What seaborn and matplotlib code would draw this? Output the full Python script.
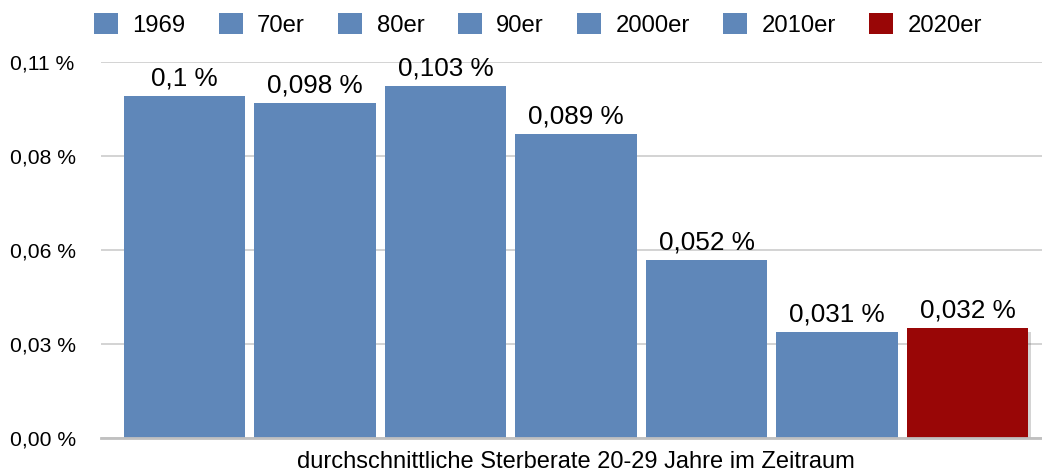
# Sterberate 20-29 Jahre nach Zeitraum
import pandas as pd
import numpy as np
import matplotlib.pyplot as plt
import matplotlib.patheffects as pe
import seaborn as sns

# Daten
kategorie = "durchschnittliche Sterberate 20-29 Jahre im Zeitraum"
zeitraeume = ["1969", "70er", "80er", "90er", "2000er", "2010er", "2020er"]
sterberate = [0.1, 0.098, 0.103, 0.089, 0.052, 0.031, 0.032]
farben = ["#5f87b9"] * 6 + ["#990606"]
y_ticks = [0, 0.0275, 0.055, 0.0825, 0.11]
y_tick_labels = ["0,00 %", "0,03 %", "0,06 %", "0,08 %", "0,11 %"]

df = pd.DataFrame({"kategorie": kategorie, "zeitraum": zeitraeume, "wert": sterberate})

sns.set_style("white")
plt.rcParams['font.family'] = ['Liberation Sans', 'DejaVu Sans']
plt.rcParams['text.color'] = 'black'
plt.rcParams['xtick.color'] = 'black'
plt.rcParams['ytick.color'] = 'black'

fig = plt.figure(figsize=(10.42, 4.75), dpi=100)
ax = fig.add_axes([101 / 1042, 37.5 / 475, 941 / 1042, 375.5 / 475])

sns.barplot(data=df, x="kategorie", y="wert", hue="zeitraum", palette=farben,
            width=0.8, gap=0.07, saturation=1, linewidth=0, ax=ax)

# x-Achse so legen, dass die Gruppe wie im Original sitzt
px = 130.5 * 7 / 0.8
ax.set_xlim(-(576 - 101) / px, (1042 - 576) / px)
ax.set_ylim(0, 0.11)
ax.set_yticks(y_ticks)
ax.set_yticklabels(y_tick_labels, fontsize=15.2)
ax.tick_params(axis="y", length=0, pad=(101 - 10) / 1.389)
ax.tick_params(axis="x", length=0, labelsize=17, pad=10)
for lbl in ax.get_yticklabels():
    lbl.set_horizontalalignment("left")
ax.set_xlabel("")
ax.set_ylabel("")
ax.yaxis.grid(True, color="#cccccc", linewidth=1.2)
ax.set_axisbelow(True)
for s in ["top", "right", "left"]:
    ax.spines[s].set_visible(False)
ax.spines["bottom"].set_color("#c0c0c0")
ax.spines["bottom"].set_linewidth(2)

# Werte über den Balken
for c, v in zip(ax.containers, sterberate):
    txt = f"{v:g}".replace(".", ",") + " %"
    ax.bar_label(c, labels=[txt], padding=4, fontsize=18.8)

# Schatten am letzten Balken
ax.containers[-1][0].set_path_effects([
    pe.SimplePatchShadow(offset=(2, -3), alpha=0.25, shadow_rgbFace="#555555"),
    pe.Normal()])

# Legende oben
handles, labels = ax.get_legend_handles_labels()
ax.legend(handles, labels, ncol=7, frameon=False, fontsize=17.2,
          loc="upper left", bbox_to_anchor=(94 / 1042, 1 - 13 / 475),
          bbox_transform=fig.transFigure, borderpad=0, borderaxespad=0,
          handlelength=1.0, handleheight=1.0, handletextpad=0.6,
          columnspacing=1.4)

plt.savefig("out.png", dpi=100)
